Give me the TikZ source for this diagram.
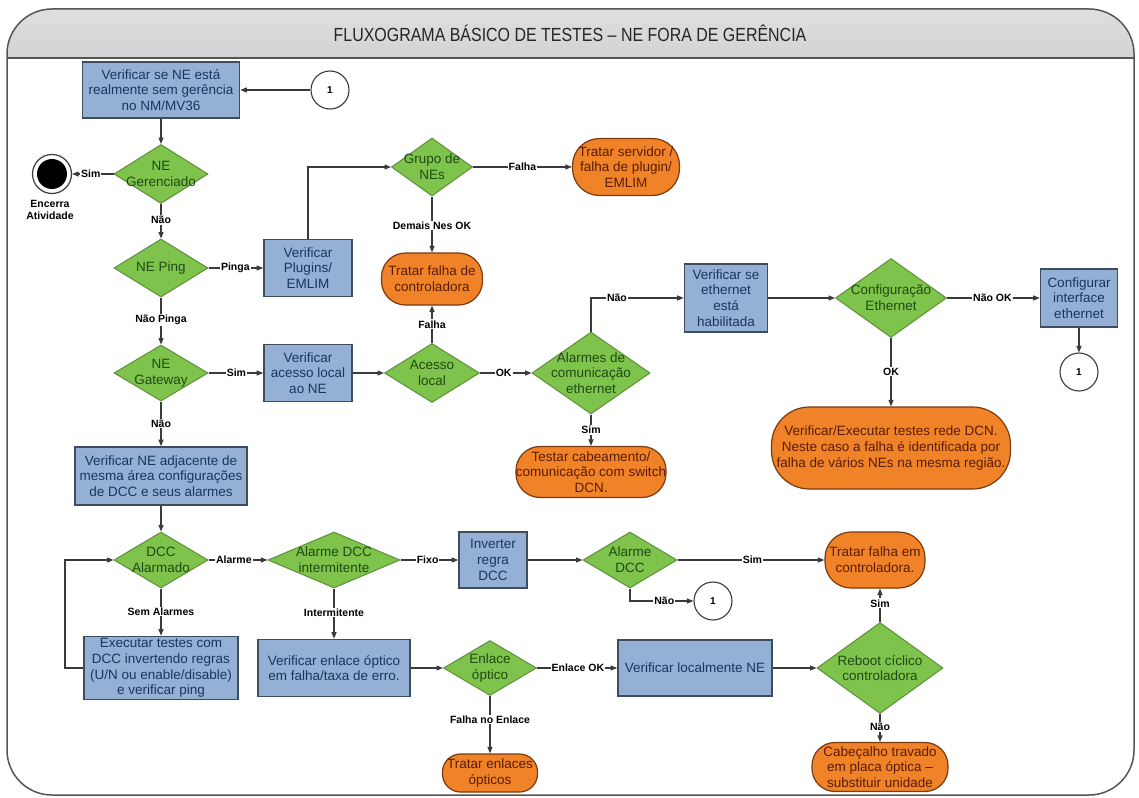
\documentclass[tikz,border=0pt]{standalone}
\usepackage{fontspec}
\setmainfont{Liberation Sans}
\newfontfamily\titlefont[FakeStretch=0.84]{Liberation Sans}
\usetikzlibrary{shapes.geometric,arrows.meta}

\definecolor{boxfill}{HTML}{95B0D5}
\definecolor{boxdraw}{HTML}{3E4C5E}
\definecolor{boxtext}{HTML}{1B365D}
\definecolor{decfill}{HTML}{7EC34B}
\definecolor{decdraw}{HTML}{5E8F3A}
\definecolor{dectext}{HTML}{1F4A14}
\definecolor{termfill}{HTML}{F08227}
\definecolor{termdraw}{HTML}{7A3A12}
\definecolor{termtext}{HTML}{5A1C06}
\definecolor{linecol}{HTML}{3A3A3A}
\definecolor{framecol}{HTML}{555555}

\newcommand{\nodefont}{\fontsize{13.5}{15.7}\selectfont}

\tikzset{
  proc/.style={rectangle, draw=boxdraw, line width=1.6pt, fill=boxfill,
    text=boxtext, font=\nodefont, align=center, inner sep=0pt},
  dec/.style={diamond, draw=decdraw, line width=1pt, fill=decfill, inner sep=0pt},
  dectxt/.style={text=dectext, font=\nodefont, align=center, inner sep=0pt},
  term/.style={rectangle, draw=termdraw, line width=1.2pt, fill=termfill,
    text=termtext, font=\nodefont, align=center, inner sep=0pt},
  conn/.style={circle, draw=linecol, line width=1.1pt, fill=white,
    minimum size=38pt, inner sep=0pt, font=\bfseries\fontsize{10}{12}\selectfont},
  lbl/.style={fill=white, inner sep=1pt, text=black,
    font=\bfseries\fontsize{10.5}{12}\selectfont},
  flow/.style={draw=linecol, line width=1.1pt, -{Triangle[length=6.5pt,width=5pt]}},
}

\begin{document}
\begin{tikzpicture}[x=1pt,y=-1pt]
\useasboundingbox (0,0) rectangle (1139,797);

% frame and shaded title band
\begin{scope}
  \clip[rounded corners=45pt] (7,9) rectangle (1134,795);
  \fill[white] (7,9) rectangle (1134,795);
  \shade[top color=gray!25, middle color=white!94!gray, bottom color=gray!35]
    (7,9) rectangle (1134,58);
\end{scope}
\draw[framecol, line width=1.8pt] (7,58) -- (1134,58);
\draw[framecol, line width=1.5pt, rounded corners=45pt] (7,9) rectangle (1134,795);
\node[font=\titlefont\fontsize{19}{22}\selectfont, text=black!85] (title) at (570,33)
  {FLUXOGRAMA BÁSICO DE TESTES – NE FORA DE GERÊNCIA};

% ---- nodes ----
\node[proc, minimum width=157pt, minimum height=56pt] (b1) at (161,90)
  {Verificar se NE está\\realmente sem gerência\\no NM/MV36};
\node[conn] (c1) at (330,90) {1};

\node[dec, minimum width=94pt, minimum height=59pt,
  label={[dectxt]center:NE\\Gerenciado}] (ger) at (161,174) {};
\node[circle, draw=linecol, line width=1.2pt, fill=white, minimum size=39pt, inner sep=0pt,
  path picture={\fill[black] (path picture bounding box.center) circle (15pt);}]
  (fim) at (52,174) {};
\node[align=center, font=\bfseries\fontsize{10.5}{12}\selectfont] (fimtxt) at (50,210)
  {Encerra\\Atividade};

\node[dec, minimum width=94pt, minimum height=58pt,
  label={[dectxt]center:NE Ping}] (ping) at (161,268) {};
\node[proc, minimum width=88pt, minimum height=57pt] (plug) at (308,268)
  {Verificar\\Plugins/\\EMLIM};

\node[dec, minimum width=81pt, minimum height=58pt,
  label={[dectxt]center:Grupo de\\NEs}] (grupo) at (432,167) {};
\node[term, minimum width=107pt, minimum height=57pt, rounded corners=27pt] (serv) at (626,167)
  {Tratar servidor /\\falha de plugin/\\EMLIM};
\node[term, minimum width=101pt, minimum height=52pt, rounded corners=24pt] (ctrl) at (432,279)
  {Tratar falha de\\controladora};

\node[dec, minimum width=94pt, minimum height=56pt,
  label={[dectxt]center:NE\\Gateway}] (gw) at (161,373) {};
\node[proc, minimum width=88pt, minimum height=57pt] (acbox) at (308,373)
  {Verificar\\acesso local\\ao NE};
\node[dec, minimum width=95pt, minimum height=59pt,
  label={[dectxt]center:Acesso\\local}] (acesso) at (432,373) {};
\node[dec, minimum width=118pt, minimum height=82pt,
  label={[dectxt]center:Alarmes de\\comunicação\\ethernet}] (alarm) at (591,373) {};
\node[term, minimum width=150pt, minimum height=51pt, rounded corners=24pt] (testar) at (591,472)
  {Testar cabeamento/\\comunicação com switch\\DCN.};

\node[proc, minimum width=83pt, minimum height=68pt] (ethbox) at (726,298)
  {Verificar se\\ethernet\\está\\habilitada};
\node[dec, minimum width=111pt, minimum height=79pt,
  label={[dectxt]center:Configuração\\Ethernet}] (cfg) at (891,298) {};
\node[proc, minimum width=77pt, minimum height=58pt] (cfgif) at (1079,298)
  {Configurar\\interface\\ethernet};
\node[conn] (c2) at (1079,372) {1};
\node[term, minimum width=239pt, minimum height=82pt, rounded corners=38pt] (dcn) at (891,448)
  {Verificar/Executar testes rede DCN.\\Neste caso a falha é identificada por\\falha de vários NEs na mesma região.};

\node[proc, minimum width=172pt, minimum height=58pt] (adj) at (161,476)
  {Verificar NE adjacente de\\mesma área configurações\\de DCC e seus alarmes};
\node[dec, minimum width=94pt, minimum height=56pt,
  label={[dectxt]center:DCC\\Alarmado}] (dcc) at (161,560) {};
\node[dec, minimum width=132pt, minimum height=56pt,
  label={[dectxt]center:Alarme DCC\\intermitente}] (inter) at (334,560) {};
\node[proc, minimum width=68pt, minimum height=56pt] (inv) at (493,560)
  {Inverter\\regra\\DCC};
\node[dec, minimum width=94pt, minimum height=56pt,
  label={[dectxt]center:Alarme\\DCC}] (adcc) at (630,560) {};
\node[conn] (c3) at (713,601) {1};
\node[term, minimum width=100pt, minimum height=56pt, rounded corners=26pt] (tfc) at (875,560)
  {Tratar falha em\\controladora.};

\node[proc, minimum width=154pt, minimum height=63pt] (exe) at (161,668)
  {Executar testes com\\DCC invertendo regras\\(U/N ou enable/disable)\\e verificar ping};
\node[proc, minimum width=152pt, minimum height=57pt] (enl) at (334,668)
  {Verificar enlace óptico\\em falha/taxa de erro.};
\node[dec, minimum width=93pt, minimum height=55pt,
  label={[dectxt]center:Enlace\\óptico}] (eopt) at (490,668) {};
\node[proc, minimum width=154pt, minimum height=56pt] (loc) at (695,668)
  {Verificar localmente NE};
\node[dec, minimum width=126pt, minimum height=91pt,
  label={[dectxt]center:Reboot cíclico\\controladora}] (reboot) at (880,668) {};
\node[term, minimum width=136pt, minimum height=49pt, rounded corners=23pt] (cab) at (880,767)
  {Cabeçalho travado\\em placa óptica –\\substituir unidade};
\node[term, minimum width=95pt, minimum height=38pt, rounded corners=18pt] (tenl) at (490,773)
  {Tratar enlaces\\ópticos};

\coordinate (lp) at (65,668);

% ---- connectors ----
\draw[flow] (c1.west) -- (b1.east);
\draw[flow] (b1.south) -- (ger.north);
\draw[flow] (ger.west) -- node[lbl, pos=0.55] {Sim} (fim.east);
\draw[flow] (ger.south) -- node[lbl, pos=0.46] {Não} (ping.north);
\draw[flow] (ping.east) -- node[lbl, pos=0.49] {Pinga} (plug.west);
\draw[flow] (plug.north) |- (grupo.west);
\draw[flow] (grupo.east) -- node[lbl, pos=0.5] {Falha} (serv.west);
\draw[flow] (grupo.south) -- node[lbl, pos=0.52] {Demais Nes OK} (ctrl.north);
\draw[flow] (ping.south) -- node[lbl, pos=0.47] {Não Pinga} (gw.north);
\draw[flow] (gw.east) -- node[lbl, pos=0.51] {Sim} (acbox.west);
\draw[flow] (acbox.east) -- (acesso.west);
\draw[flow] (acesso.north) -- node[lbl, pos=0.5] {Falha} (ctrl.south);
\draw[flow] (acesso.east) -- node[lbl, pos=0.46] {OK} (alarm.west);
\draw[flow] (alarm.north) |- node[lbl, pos=0.64] {Não} (ethbox.west);
\draw[flow] (alarm.south) -- node[lbl, pos=0.5] {Sim} (testar.north);
\draw[flow] (ethbox.east) -- (cfg.west);
\draw[flow] (cfg.east) -- node[lbl, pos=0.49] {Não OK} (cfgif.west);
\draw[flow] (cfgif.south) -- (c2.north);
\draw[flow] (cfg.south) -- node[lbl, pos=0.49] {OK} (dcn.north);
\draw[flow] (gw.south) -- node[lbl, pos=0.49] {Não} (adj.north);
\draw[flow] (adj.south) -- (dcc.north);
\draw[flow] (dcc.east) -- node[lbl, pos=0.43] {Alarme} (inter.west);
\draw[flow] (dcc.south) -- node[lbl, pos=0.49] {Sem Alarmes} (exe.north);
\draw[flow] (exe.west) -- (lp) |- (dcc.west);
\draw[flow] (inter.east) -- node[lbl, pos=0.47] {Fixo} (inv.west);
\draw[flow] (inter.south) -- node[lbl, pos=0.48] {Intermitente} (enl.north);
\draw[flow] (inv.east) -- (adcc.west);
\draw[flow] (adcc.east) -- node[lbl, pos=0.51] {Sim} (tfc.west);
\draw[flow] (adcc.south) |- node[lbl, pos=0.77] {Não} (c3.west);
\draw[flow] (enl.east) -- (eopt.west);
\draw[flow] (eopt.east) -- node[lbl, pos=0.51] {Enlace OK} (loc.west);
\draw[flow] (eopt.south) -- node[lbl, pos=0.41] {Falha no Enlace} (tenl.north);
\draw[flow] (loc.east) -- (reboot.west);
\draw[flow] (reboot.north) -- node[lbl, pos=0.56] {Sim} (reboot.north |- tfc.south);
\draw[flow] (reboot.south) -- node[lbl, pos=0.47] {Não} (cab.north);
\end{tikzpicture}
\end{document}
